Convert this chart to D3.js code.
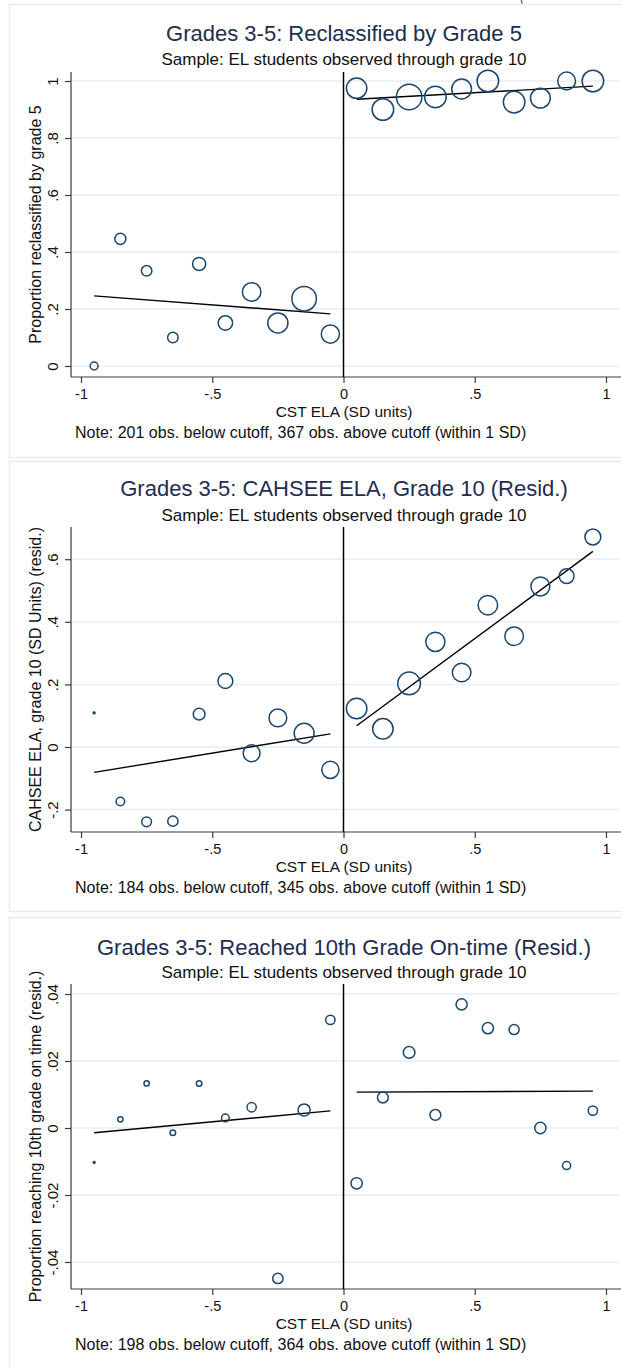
<!DOCTYPE html>
<html>
<head>
<meta charset="utf-8">
<script src="https://cdn.jsdelivr.net/npm/d3@7"></script>
<style>
  html, body { margin: 0; padding: 0; background: #ffffff; }
  svg { display: block; }
  text { font-family: "Liberation Sans", Arial, sans-serif; }
</style>
</head>
<body>
<svg id="chart" width="621" height="1368"></svg>
<script>
// ---- Bin midpoints (CST ELA, SD units) ----
const binsBelow = [-0.95, -0.85, -0.75, -0.65, -0.55, -0.45, -0.35, -0.25, -0.15, -0.05];
const binsAbove = [0.05, 0.15, 0.25, 0.35, 0.45, 0.55, 0.65, 0.75, 0.85, 0.95];
const fitXBelow = [-0.95, -0.05];
const fitXAbove = [0.05, 0.95];

const xTicks = [-1, -0.5, 0, 0.5, 1];
const xTickLabels = ["-1", "-.5", "0", ".5", "1"];

// ---- Panel 1: reclassified by grade 5 ----
const reclassBelow = [0.000, 0.446, 0.334, 0.100, 0.358, 0.151, 0.260, 0.151, 0.236, 0.112];
const reclassAbove = [0.975, 0.900, 0.944, 0.944, 0.972, 1.000, 0.926, 0.940, 1.000, 1.000];
const reclassNBelow = [5, 10, 9, 9, 14, 17, 28, 33, 49, 27];
const reclassNAbove = [34, 38, 53, 38, 32, 38, 38, 32, 26, 38];
const reclassFitBelow = [0.246, 0.183];
const reclassFitAbove = [0.936, 0.982];
const reclassYTicks = [0, 0.2, 0.4, 0.6, 0.8, 1];
const reclassYTickLabels = ["0", ".2", ".4", ".6", ".8", "1"];

// ---- Panel 2: CAHSEE ELA grade 10 residual ----
const cahseeBelow = [0.109, -0.174, -0.239, -0.237, 0.105, 0.211, -0.020, 0.093, 0.044, -0.073];
const cahseeAbove = [0.123, 0.058, 0.203, 0.336, 0.238, 0.453, 0.354, 0.513, 0.546, 0.671];
const cahseeNBelow = [1, 7, 9, 10, 13, 21, 27, 30, 38, 28];
const cahseeNAbove = [40, 40, 49, 35, 33, 36, 33, 34, 21, 24];
const cahseeFitBelow = [-0.081, 0.042];
const cahseeFitAbove = [0.068, 0.625];
const cahseeYTicks = [-0.2, 0, 0.2, 0.4, 0.6];
const cahseeYTickLabels = ["-.2", "0", ".2", ".4", ".6"];

// ---- Panel 3: reached 10th grade on time residual ----
const ontimeBelow = [-0.0103, 0.0026, 0.0133, -0.0014, 0.0133, 0.0030, 0.0062, -0.0449, 0.0054, 0.0323];
const ontimeAbove = [-0.0165, 0.0091, 0.0226, 0.0039, 0.0369, 0.0298, 0.0294, 0.0000, -0.0112, 0.0052];
const ontimeNBelow = [3, 9, 9, 10, 10, 19, 28, 35, 47, 28];
const ontimeNAbove = [41, 38, 44, 38, 40, 40, 33, 41, 21, 28];
const ontimeFitBelow = [-0.0014, 0.0051];
const ontimeFitAbove = [0.0107, 0.0110];
const ontimeYTicks = [-0.04, -0.02, 0, 0.02, 0.04];
const ontimeYTickLabels = ["-.04", "-.02", "0", ".02", ".04"];

// ---- Panel definitions (text + data, layout below) ----
const panels = [
  {
    title: "Grades 3-5: Reclassified by Grade 5",
    subtitle: "Sample: EL students observed through grade 10",
    ytitle: "Proportion reclassified by grade 5",
    note: "Note: 201 obs. below cutoff, 367 obs. above cutoff (within 1 SD)",
    below: reclassBelow, above: reclassAbove,
    nBelow: reclassNBelow, nAbove: reclassNAbove,
    fitBelow: reclassFitBelow, fitAbove: reclassFitAbove,
    yDomain: [-0.0386, 1.0316],
    yTicks: reclassYTicks, yTickLabels: reclassYTickLabels,
    layout: { boxTop: 4, boxBottom: 457, titleY: 33, subY: 59, plotTop: 72, plotBottom: 377, rk: 1.75 }
  },
  {
    title: "Grades 3-5: CAHSEE ELA, Grade 10 (Resid.)",
    subtitle: "Sample: EL students observed through grade 10",
    ytitle: "CAHSEE ELA, grade 10 (SD Units) (resid.)",
    note: "Note: 184 obs. below cutoff, 345 obs. above cutoff (within 1 SD)",
    below: cahseeBelow, above: cahseeAbove,
    nBelow: cahseeNBelow, nAbove: cahseeNAbove,
    fitBelow: cahseeFitBelow, fitAbove: cahseeFitAbove,
    yDomain: [-0.2716, 0.7029],
    yTicks: cahseeYTicks, yTickLabels: cahseeYTickLabels,
    layout: { boxTop: 461, boxBottom: 911, titleY: 488, subY: 515, plotTop: 527, plotBottom: 832, rk: 1.62 }
  },
  {
    title: "Grades 3-5: Reached 10th Grade On-time (Resid.)",
    subtitle: "Sample: EL students observed through grade 10",
    ytitle: "Proportion reaching 10th grade on time (resid.)",
    note: "Note: 198 obs. below cutoff, 364 obs. above cutoff (within 1 SD)",
    below: ontimeBelow, above: ontimeAbove,
    nBelow: ontimeNBelow, nAbove: ontimeNAbove,
    fitBelow: ontimeFitBelow, fitAbove: ontimeFitAbove,
    yDomain: [-0.04806, 0.04299],
    yTicks: ontimeYTicks, yTickLabels: ontimeYTickLabels,
    layout: { boxTop: 917, boxBottom: 1380, titleY: 947, subY: 972, plotTop: 984, plotBottom: 1289, rk: 0.88 }
  }
];

const svg = d3.select("#chart");
const W = 621;
const plotLeft = 71, plotRight = 619;
const x = d3.scaleLinear().domain([-1, 1]).range([81, 606]);

const C = {
  title: "#1f2d4f",
  text: "#111111",
  grid: "#e8eef2",
  frame: "#e3ebf1",
  axis: "#3a3a3a",
  marker: "#1a476f"
};

// small fragment of text from above the first graph
svg.append("text").attr("x", 520).attr("y", 3)
  .attr("font-size", 13).attr("fill", "#555").text("(");

panels.forEach(p => {
  const L = p.layout;
  const g = svg.append("g");

  // outer graph frame
  g.append("rect")
    .attr("x", 9.5).attr("y", L.boxTop + 0.5)
    .attr("width", W + 20).attr("height", L.boxBottom - L.boxTop)
    .attr("fill", "#ffffff").attr("stroke", C.frame).attr("stroke-width", 1.5);

  const y = d3.scaleLinear().domain(p.yDomain).range([L.plotBottom, L.plotTop]);

  // gridlines
  g.append("g").selectAll("line").data(p.yTicks).join("line")
    .attr("x1", plotLeft).attr("x2", plotRight)
    .attr("y1", d => y(d)).attr("y2", d => y(d))
    .attr("stroke", C.grid).attr("stroke-width", 1.5);

  // y axis
  const yAxis = d3.axisLeft(y).tickValues(p.yTicks)
    .tickFormat((d, i) => p.yTickLabels[i]).tickSize(6).tickPadding(12);
  const ya = g.append("g").attr("transform", `translate(${plotLeft},0)`).call(yAxis);
  ya.select(".domain").attr("d", `M0,${L.plotTop}V${L.plotBottom}`)
    .attr("stroke", C.axis).attr("stroke-width", 1.2);
  ya.selectAll(".tick line").attr("stroke", C.axis).attr("stroke-width", 1.2);
  ya.selectAll(".tick text")
    .attr("font-size", 15).attr("fill", C.text)
    .attr("x", null).attr("dy", null)
    .attr("text-anchor", "middle").attr("dominant-baseline", "central")
    .attr("transform", "translate(-19,0) rotate(-90)");

  // x axis
  const xAxis = d3.axisBottom(x).tickValues(xTicks)
    .tickFormat((d, i) => xTickLabels[i]).tickSize(6).tickPadding(3);
  const xa = g.append("g").attr("transform", `translate(0,${L.plotBottom})`).call(xAxis);
  xa.select(".domain").attr("d", `M${plotLeft},0H${W + 5}`)
    .attr("stroke", C.axis).attr("stroke-width", 1.2);
  xa.selectAll(".tick line").attr("stroke", C.axis).attr("stroke-width", 1.2);
  xa.selectAll(".tick text")
    .attr("font-size", 14.5).attr("fill", C.text)
    .attr("y", 16.5).attr("dy", null).attr("dominant-baseline", "central");

  // cutoff line at zero
  g.append("line")
    .attr("x1", x(0)).attr("x2", x(0))
    .attr("y1", L.plotTop).attr("y2", L.plotBottom)
    .attr("stroke", "#000").attr("stroke-width", 1.5);

  // linear fits on each side of the cutoff
  [[fitXBelow, p.fitBelow], [fitXAbove, p.fitAbove]].forEach(([fx, fy]) => {
    g.append("path")
      .datum(fx.map((v, i) => [v, fy[i]]))
      .attr("d", d3.line().x(d => x(d[0])).y(d => y(d[1])))
      .attr("fill", "none").attr("stroke", "#000").attr("stroke-width", 1.4);
  });

  // binned means, marker area proportional to observations
  const pts = binsBelow.map((b, i) => ({ x: b, y: p.below[i], n: p.nBelow[i] }))
    .concat(binsAbove.map((b, i) => ({ x: b, y: p.above[i], n: p.nAbove[i] })));
  const r = d => L.rk * Math.sqrt(d.n);
  g.append("g").selectAll("circle").data(pts).join("circle")
    .attr("cx", d => x(d.x)).attr("cy", d => y(d.y))
    .attr("r", d => r(d) < 2 ? 1.4 : r(d))
    .attr("fill", d => r(d) < 2 ? C.marker : "none")
    .attr("stroke", C.marker).attr("stroke-width", d => r(d) < 2 ? 0.6 : 1.5);

  // titles
  g.append("text").attr("x", 344).attr("y", L.titleY)
    .attr("text-anchor", "middle").attr("dominant-baseline", "central")
    .attr("font-size", 22).attr("fill", C.title).text(p.title);
  g.append("text").attr("x", 344).attr("y", L.subY)
    .attr("text-anchor", "middle").attr("dominant-baseline", "central")
    .attr("font-size", 17).attr("fill", C.text).text(p.subtitle);

  // axis titles
  g.append("text")
    .attr("transform", `translate(35,${(L.plotTop + L.plotBottom) / 2}) rotate(-90)`)
    .attr("text-anchor", "middle").attr("dominant-baseline", "central")
    .attr("font-size", 16).attr("fill", C.text).text(p.ytitle);
  g.append("text").attr("x", 344).attr("y", L.plotBottom + 34)
    .attr("text-anchor", "middle").attr("dominant-baseline", "central")
    .attr("font-size", 15.5).attr("fill", C.text).text("CST ELA (SD units)");

  // note
  g.append("text").attr("x", 75).attr("y", L.plotBottom + 55.5)
    .attr("dominant-baseline", "central")
    .attr("font-size", 16).attr("fill", C.text).text(p.note);
});
</script>
</body>
</html>
